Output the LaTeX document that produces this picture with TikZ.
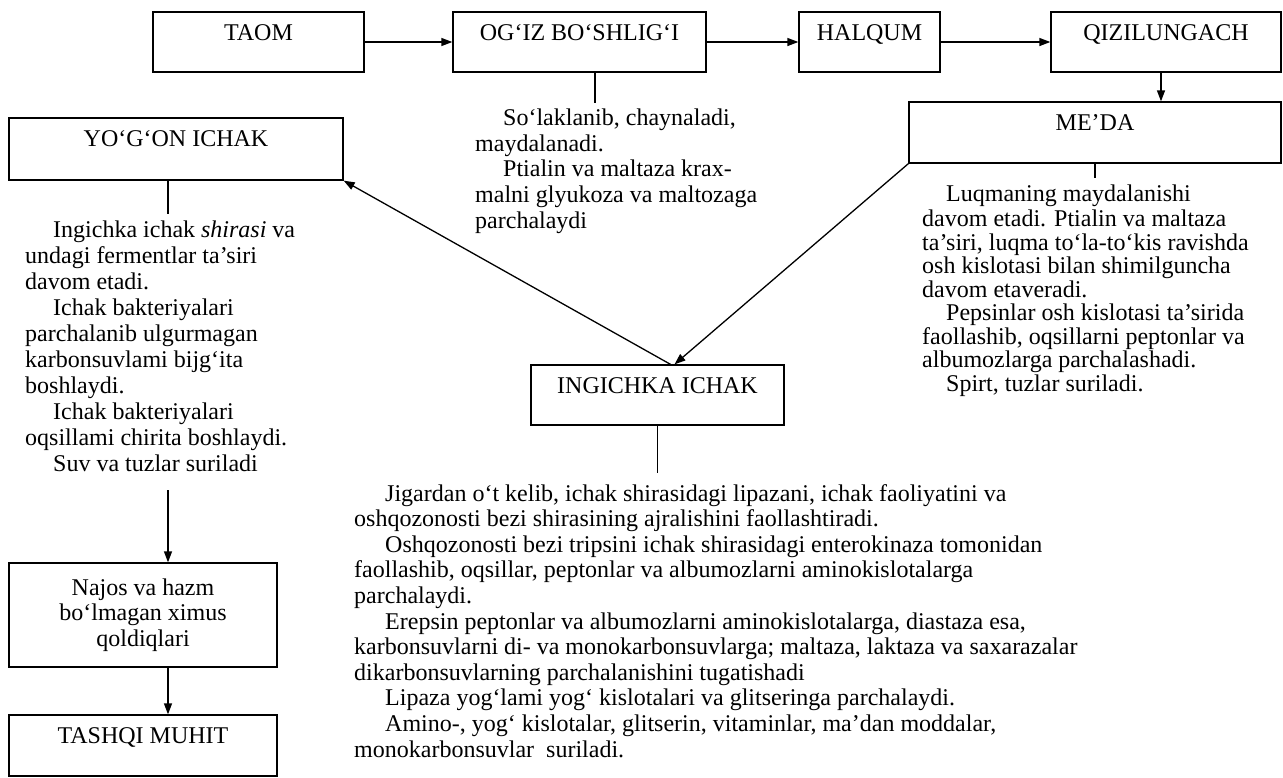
\documentclass[tikz,border=0pt]{standalone}
\usepackage{fontspec}
\setmainfont{Liberation Serif}
\usetikzlibrary{arrows.meta,calc}
\newcommand{\myind}{\hspace*{28pt}}
\begin{document}
\begin{tikzpicture}[x=1pt,y=-1pt,
  every node/.style={font=\fontsize{24}{25.6}\selectfont, inner sep=0pt},
  box/.style={draw, line width=1.3pt},
  lbl/.style={anchor=base},
  txt/.style={anchor=north west, align=left},
  ln/.style={line width=1.3pt},
  arr/.style={line width=1.3pt, -{Triangle[length=11pt,width=8pt]}}
]
\useasboundingbox (0,0) rectangle (1283,777);

% boxes
\node[box, minimum width=211, minimum height=60] (taom) at (258.5,42) {};
\node[box, minimum width=253, minimum height=60] (ogiz) at (579.5,42) {};
\node[box, minimum width=141, minimum height=60] (halqum) at (869.5,42) {};
\node[box, minimum width=230, minimum height=60] (qiz) at (1166,42) {};
\node[box, minimum width=372, minimum height=61] (meda) at (1095,132.5) {};
\node[box, minimum width=334, minimum height=62] (yogon) at (176,149) {};
\node[box, minimum width=253, minimum height=60] (ingichka) at (657.5,395) {};
\node[box, minimum width=268, minimum height=104] (najos) at (143,615) {};
\node[box, minimum width=268, minimum height=61] (tashqi) at (143,745.5) {};

% box labels
\node[lbl] (taomL) at ($(taom.north)+(0,29)$) {TAOM};
\node[lbl] (ogizL) at ($(ogiz.north)+(0,29)$) {OG‘IZ BO‘SHLIG‘I};
\node[lbl] (halqumL) at ($(halqum.north)+(0,29)$) {HALQUM};
\node[lbl] (qizL) at ($(qiz.north)+(0,29)$) {QIZILUNGACH};
\node[lbl] (medaL) at ($(meda.north)+(0,29)$) {ME’DA};
\node[lbl] (yogonL) at ($(yogon.north)+(0,29)$) {YO‘G‘ON ICHAK};
\node[lbl] (ingichkaL) at ($(ingichka.north)+(0,29)$) {INGICHKA ICHAK};
\node[align=center] (najosL) at (najos.center) {Najos va hazm\\bo‘lmagan ximus\\qoldiqlari};
\node[lbl] (tashqiL) at ($(tashqi.north)+(0,29)$) {TASHQI MUHIT};

% flow arrows
\draw[arr] (taom.east) -- (ogiz.west);
\draw[arr] (ogiz.east) -- (halqum.west);
\draw[arr] (halqum.east) -- (qiz.west);
\draw[arr] ([xshift=-5pt]qiz.south) -- ([xshift=-5pt]qiz.south |- meda.north);
\draw[arr] (meda.south west) -- ($(ingichka.north)+(17,0)$);
\draw[arr] ($(ingichka.north)+(13,0)$) -- (yogon.south east);

% ticks
\draw[ln] ([xshift=15.5pt]ogiz.south) -- ++(0,30);
\draw[ln] (meda.south) -- ++(0,14);
\draw[ln] (ingichka.south) -- ++(0,47);
\draw[ln] ([xshift=-8pt]yogon.south) -- ++(0,33);

% description texts
\node[txt] (ogizT) at (475,107.6) {\strut\myind So‘laklanib, chaynaladi,\\
maydalanadi.\\
\myind Ptialin va maltaza krax-\\
malni glyukoza va maltozaga\\
parchalaydi};

\node[txt, font=\fontsize{24}{23.5}\selectfont] (medaT) at (922,185) {\strut\hspace*{24pt}Luqmaning maydalanishi\\
davom etadi. Ptialin va maltaza\\
ta’siri, luqma to‘la-to‘kis ravishda\\
osh kislotasi bilan shimilguncha\\
davom etaveradi.\\
\hspace*{24pt}Pepsinlar osh kislotasi ta’sirida\\
faollashib, oqsillarni peptonlar va\\
albumozlarga parchalashadi.\\
\hspace*{24pt}Spirt, tuzlar suriladi.};

\node[txt, font=\fontsize{24}{26}\selectfont] (yogonT) at (25,219) {\strut\myind Ingichka ichak \textit{shirasi} va\\
undagi fermentlar ta’siri\\
davom etadi.\\
\myind Ichak bakteriyalari\\
parchalanib ulgurmagan\\
karbonsuvlami bijg‘ita\\
boshlaydi.\\
\myind Ichak bakteriyalari\\
oqsillami chirita boshlaydi.\\
\myind Suv va tuzlar suriladi};

\node[txt] (ingichkaT) at (354,483) {\strut\hspace*{31pt}Jigardan o‘t kelib, ichak shirasidagi lipazani, ichak faoliyatini va\\
oshqozonosti bezi shirasining ajralishini faollashtiradi.\\
\hspace*{31pt}Oshqozonosti bezi tripsini ichak shirasidagi enterokinaza tomonidan\\
faollashib, oqsillar, peptonlar va albumozlarni aminokislotalarga\\
parchalaydi.\\
\hspace*{31pt}Erepsin peptonlar va albumozlarni aminokislotalarga, diastaza esa,\\
karbonsuvlarni di- va monokarbonsuvlarga; maltaza, laktaza va saxarazalar\\
dikarbonsuvlarning parchalanishini tugatishadi\\
\hspace*{31pt}Lipaza yog‘lami yog‘ kislotalari va glitseringa parchalaydi.\\
\hspace*{31pt}Amino-, yog‘ kislotalar, glitserin, vitaminlar, ma’dan moddalar,\\
monokarbonsuvlar\ \ suriladi.};

% left column arrows
\coordinate (la) at (168,490);
\draw[arr] (la) -- (la |- najos.north);
\draw[arr] ([xshift=25pt]najos.south) -- ([xshift=25pt]najos.south |- tashqi.north);
\end{tikzpicture}
\end{document}
